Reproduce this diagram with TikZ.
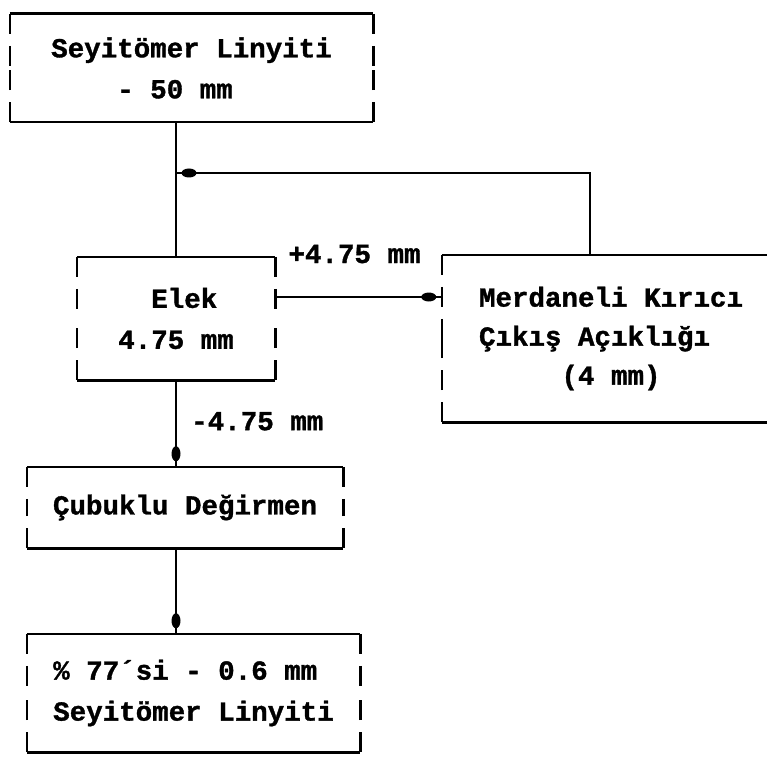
\documentclass[tikz,border=0pt]{standalone}
\usepackage{fontspec}
\setmonofont{Liberation Mono}[BoldFeatures={FakeBold=1.2}]
\usetikzlibrary{decorations.markings}

% typewriter frame: solid top and bottom, broken sides
\newcommand{\tyframe}[1]{%
  \draw[rim] (#1.north west) -- (#1.north east);
  \draw[rim] (#1.south west) -- (#1.south east);
  \foreach \s in {west,east}{
    \draw[rim, side] (#1.north \s) -- (#1.\s);
    \draw[rim, side] (#1.south \s) -- (#1.\s);
  }}

\begin{document}
\begin{tikzpicture}[
    x=1pt, y=-1pt,
    rim/.style={line width=2.6pt},
    side/.style={dash pattern=on 20pt off 12pt},
    stage/.style={font=\ttfamily\bfseries\fontsize{27.5}{41}\selectfont, align=left, inner sep=0pt},
    lbl/.style={font=\ttfamily\bfseries\fontsize{27.5}{41}\selectfont, inner sep=0pt},
    flow/.style={rim, postaction={decorate},
      decoration={markings, mark=at position -6pt with {\fill (-7pt,0pt) ellipse [x radius=7.5pt, y radius=4.5pt];}}}
  ]
  \path[use as bounding box, fill=white] (0,0) rectangle (767,759);

  \node[stage, minimum width=363pt, minimum height=108pt] (seyit) at (191.5,68)
    {Seyitömer Linyiti\\\phantom{0000}- 50 mm};
  \node[stage, minimum width=198pt, minimum height=123pt] (elek) at (176,318.5)
    {\phantom{00}Elek\\4.75 mm};
  \node[stage, minimum width=338pt, minimum height=167pt] (merd) at (611,338.5)
    {Merdaneli Kırıcı\\[-2pt]Çıkış Açıklığı\\[-2pt]\phantom{00000}(4 mm)};
  \node[stage, minimum width=316pt, minimum height=81pt] (cub) at (185,507.5)
    {Çubuklu Değirmen};
  \node[stage, minimum width=333pt, minimum height=118pt] (fin) at (193.5,693)
    {\% 77´si - 0.6 mm\\Seyitömer Linyiti};

  \foreach \b in {seyit,elek,merd,cub,fin}{\tyframe{\b}}

  \coordinate (back) at (elek.north |- 0,173);
  \draw[rim] (elek.north |- seyit.south) -- (elek.north);
  \draw[flow] ([xshift=-21pt]merd.north) |- (back);
  \draw[flow] ([yshift=21.5pt]elek.east) -- ([yshift=21.5pt]elek.east -| merd.west)
    node[lbl, at start, anchor=base west, xshift=12pt, yshift=34pt] {+4.75 mm};
  \draw[flow] (elek.south) -- (elek.south |- cub.north)
    node[lbl, at start, anchor=base west, xshift=14pt, yshift=-50pt] {-4.75 mm};
  \draw[flow] (elek.south |- cub.south) -- (elek.south |- fin.north);
\end{tikzpicture}
\end{document}
